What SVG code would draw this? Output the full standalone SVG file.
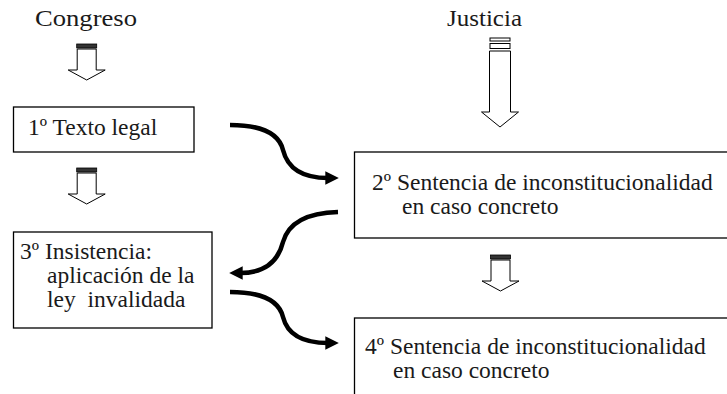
<svg xmlns="http://www.w3.org/2000/svg" xmlns:xlink="http://www.w3.org/1999/xlink" width="727" height="394" viewBox="0 0 727 394">
<style>
  text { font-family: "Liberation Serif", "Times New Roman", serif; font-size: 23.5px; fill: #1a1a1a; white-space: pre; }
  .box { fill: #fff; stroke: #000; stroke-width: 1.3; }
  .conn { fill: none; stroke: #000; stroke-width: 4.5; stroke-linecap: butt; }
  .blk { fill: #fff; stroke: #000; stroke-width: 1; }
</style>
<defs>
  <marker id="ah" viewBox="0 0 10 10" refX="2" refY="5" markerWidth="3" markerHeight="3" orient="auto" markerUnits="strokeWidth">
    <path d="M0,0 L10,5 L0,10 Z" fill="#000"/>
  </marker>
  <g id="smallArrow">
    <rect x="-10" y="0" width="20" height="4" fill="#333" stroke="#000" stroke-width="0.8"/>
    <path class="blk" d="M-9.5,5 L9.5,5 L9.5,26 L18.5,26 L0,36 L-18.5,26 L-9.5,26 Z"/>
  </g>
</defs>

<g id="congreso">
  <text x="35" y="26" textLength="102" lengthAdjust="spacingAndGlyphs">Congreso</text>
  <use xlink:href="#smallArrow" href="#smallArrow" transform="translate(86.7,44)"/>
</g>

<g id="justicia">
  <text x="447" y="26" textLength="75" lengthAdjust="spacingAndGlyphs">Justicia</text>
  <rect class="blk" x="490" y="38" width="20" height="3"/>
  <rect class="blk" x="490" y="43.5" width="20" height="5"/>
  <path class="blk" d="M489.5,51 L510.5,51 L510.5,112 L518.5,112 L500,127 L481.5,112 L489.5,112 Z"/>
</g>

<g id="n1">
  <rect class="box" x="13.5" y="107" width="180.5" height="45"/>
  <text x="28" y="135">1º Texto legal</text>
</g>

<g id="a13">
  <use xlink:href="#smallArrow" href="#smallArrow" transform="translate(86.7,168)"/>
</g>

<g id="n2">
  <rect class="box" x="354.5" y="152" width="380" height="86"/>
  <text x="372" y="190">2º Sentencia de inconstitucionalidad</text>
  <text x="402" y="214">en caso concreto</text>
</g>

<g id="a24">
  <use xlink:href="#smallArrow" href="#smallArrow" transform="translate(500.5,255)"/>
</g>

<g id="n3">
  <rect class="box" x="13.5" y="232" width="198.5" height="96"/>
  <text x="20" y="259">3º Insistencia:</text>
  <text x="47" y="283">aplicación de la</text>
  <text x="47" y="307">ley  invalidada</text>
</g>

<g id="n4">
  <rect class="box" x="354.5" y="318" width="380" height="100"/>
  <text x="365" y="354">4º Sentencia de inconstitucionalidad</text>
  <text x="393" y="378">en caso concreto</text>
</g>

<g id="connectors">
  <path class="conn" marker-end="url(#ah)" d="M230,125 C268,125 280,138 283,150 C287,166 300,178 328,178"/>
  <path class="conn" marker-end="url(#ah)" d="M338,212 C300,213 287,228 283,242 C279,258 268,273 240,273"/>
  <path class="conn" marker-end="url(#ah)" d="M230,292 C268,292 280,305 283,317 C287,333 300,343 328,343"/>
</g>
</svg>
